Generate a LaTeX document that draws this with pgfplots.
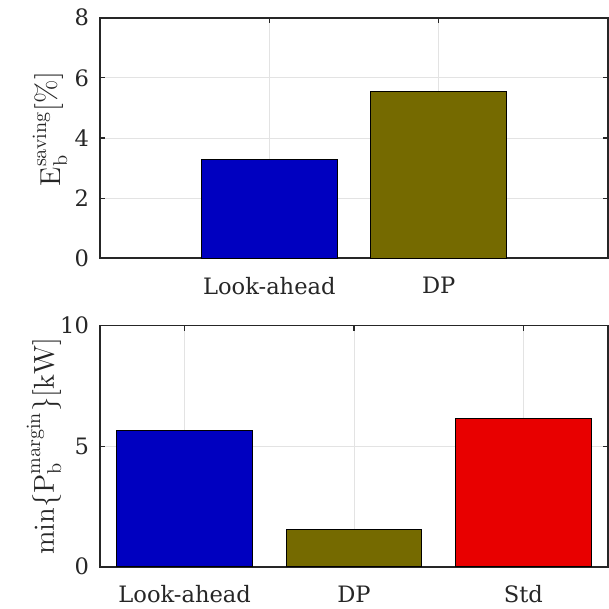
\documentclass[border=0pt]{standalone}
\usepackage[no-math]{fontspec}
\setmainfont{DejaVu Serif}
\usepackage{pgfplots}
\pgfplotsset{compat=1.18}
\definecolor{cblue}{RGB}{0,0,192}
\definecolor{colive}{RGB}{117,106,0}
\definecolor{cred}{RGB}{232,0,0}
\definecolor{axcol}{RGB}{38,38,38}
\pgfplotsset{
  myax/.style={
    scale only axis, anchor=south west, width=254pt,
    axis line style={draw=axcol, line width=0.8pt},
    tick style={draw=axcol, line width=0.6pt},
    major tick length=2.5pt, tick align=inside, tick pos=both,
    grid=major, major grid style={draw=gray!22, line width=0.5pt},
    /pgf/number format/assume math mode=true,
    ticklabel style={font=\fontsize{11.3}{13}\selectfont, text=black!85},
    xticklabel style={yshift=-6pt},
    yticklabel style={xshift=-2pt},
    label style={font=\fontsize{14}{16}\selectfont, text=black!85},
    axis on top=false,
  },
  mybar/.style={ybar, bar width=0.8, bar shift=0pt, draw=black, line width=0.5pt, fill=#1},
}
\begin{document}
\begin{tikzpicture}
\path[use as bounding box] (0,0) rectangle (304.5pt,304.5pt);
\begin{axis}[myax, at={(50pt,175.35pt)}, height=120.3pt,
  xmin=0, xmax=3, ymin=0, ymax=8,
  xtick={1,2}, xticklabels={Look-ahead,DP},
  ytick={0,2,4,6,8},
  ylabel={$\mathrm{E}_{\mathrm{b}}^{\mathrm{saving}}\raisebox{2pt}{$[\%]$}$},
  ylabel style={at={([xshift=-25pt,yshift=4.5pt]rel axis cs:0,0.5)}, anchor=center},
]
\addplot[mybar=cblue] coordinates {(1,3.29)};
\addplot[mybar=colive] coordinates {(2,5.53)};
\end{axis}
\begin{axis}[myax, at={(50pt,21.15pt)}, height=120.5pt,
  xmin=0.5, xmax=3.5, ymin=0, ymax=10,
  xtick={1,2,3}, xticklabels={Look-ahead,DP,Std},
  ytick={0,5,10},
  ylabel={$\mathrm{min}\{\mathrm{P}_{\mathrm{b}}^{\mathrm{margin}}\}[\mathrm{kW}]$},
  ylabel style={at={([xshift=-28pt]rel axis cs:0,0.5)}, anchor=center},
]
\addplot[mybar=cblue] coordinates {(1,5.66)};
\addplot[mybar=colive] coordinates {(2,1.56)};
\addplot[mybar=cred] coordinates {(3,6.16)};
\end{axis}
\end{tikzpicture}
\end{document}
